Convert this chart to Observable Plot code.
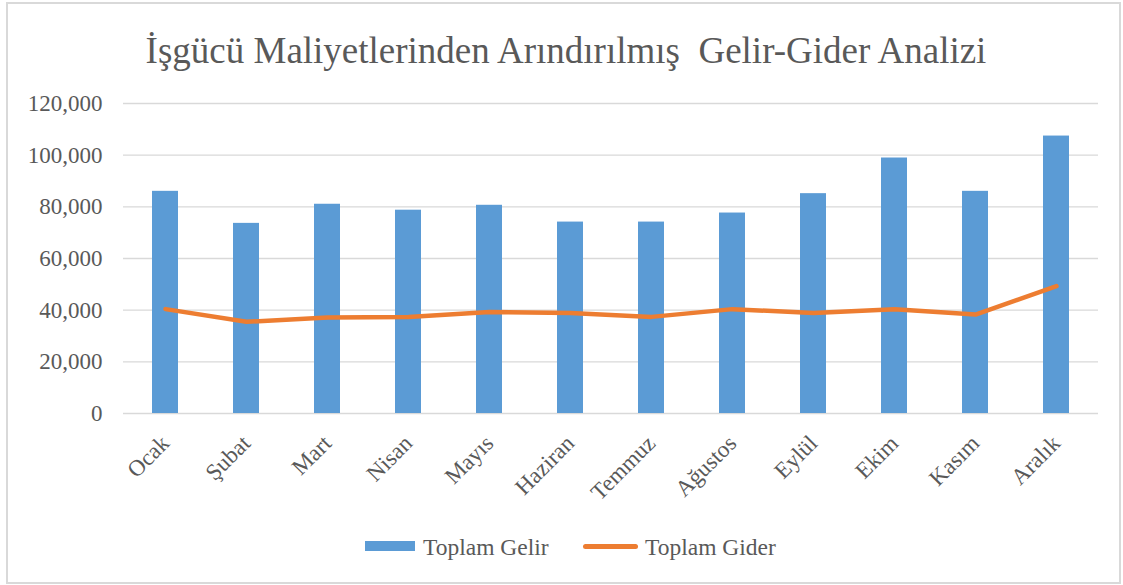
<!DOCTYPE html>
<html>
<head>
<meta charset="utf-8">
<script src="https://cdn.jsdelivr.net/npm/d3@7"></script>
<script src="https://cdn.jsdelivr.net/npm/@observablehq/plot@0.6"></script>
<style>
  html, body { margin: 0; padding: 0; background: #fff; }
  body { width: 1123px; height: 585px; position: relative; overflow: hidden; font-family: "Liberation Serif", "Times New Roman", serif; color: #595959; }
  #frame { position: absolute; left: 6px; top: 2px; width: 1111px; height: 578px; border: 2px solid #d9d9d9; }
  #title { position: absolute; left: 0; width: 1132px; top: 32px; text-align: center; font-size: 37px; line-height: 37px; color: #595959; white-space: pre; }
  #chart { position: absolute; left: 0; top: 0; }
  .leg { position: absolute; font-size: 23.5px; line-height: 23px; top: 536px; color: #595959; white-space: nowrap; }
  .sw-bar { position: absolute; left: 365px; top: 541px; width: 50px; height: 10px; background: #5b9bd5; }
  .sw-line { position: absolute; left: 583px; top: 544px; width: 55px; height: 5px; border-radius: 3px; background: #ed7d31; }
</style>
</head>
<body>
<div id="frame"></div>
<div id="chart"></div>
<div id="title">İşgücü Maliyetlerinden Arındırılmış  Gelir-Gider Analizi</div>
<div class="sw-bar"></div>
<div class="leg" style="left:423px">Toplam Gelir</div>
<div class="sw-line"></div>
<div class="leg" style="left:645px">Toplam Gider</div>
<script>
const months = ["Ocak", "Şubat", "Mart", "Nisan", "Mayıs", "Haziran", "Temmuz", "Ağustos", "Eylül", "Ekim", "Kasım", "Aralık"];
const gelir = [86000, 73600, 81000, 78700, 80600, 74100, 74100, 77600, 85100, 98900, 86000, 107400];
const gider = [40400, 35500, 37200, 37400, 39300, 38900, 37400, 40400, 38900, 40400, 38300, 49300];
const yTicks = [0, 20000, 40000, 60000, 80000, 100000, 120000];

const data = months.map((m, i) => ({month: m, gelir: gelir[i], gider: gider[i]}));
const fmt = d3.format(",");

const chart = Plot.plot({
  width: 1123,
  height: 500,
  marginTop: 103,
  marginBottom: 87,
  marginLeft: 123,
  marginRight: 25,
  style: {fontFamily: "'Liberation Serif', 'Times New Roman', serif", fontSize: "23px", color: "#595959", background: "transparent", overflow: "visible"},
  x: {domain: months, paddingInner: 0.68, paddingOuter: 0.34, label: null},
  y: {domain: [0, 120000], label: null},
  marks: [
    Plot.ruleY(yTicks, {stroke: "#d9d9d9", strokeWidth: 1.3}),
    Plot.barY(data, {x: "month", y: "gelir", fill: "#5b9bd5"}),
    Plot.lineY(data, {x: "month", y: "gider", stroke: "#ed7d31", strokeWidth: 4.5, strokeLinejoin: "round", strokeLinecap: "round"}),
    Plot.axisY({ticks: yTicks, tickFormat: fmt, tickSize: 0, tickPadding: 21, fill: "#595959", fontSize: 23, label: null}),
    Plot.axisX({tickSize: 0, tickPadding: 26, tickRotate: -45, fill: "#595959", fontSize: 23, label: null})
  ]
});
document.getElementById("chart").appendChild(chart);
</script>
</body>
</html>
